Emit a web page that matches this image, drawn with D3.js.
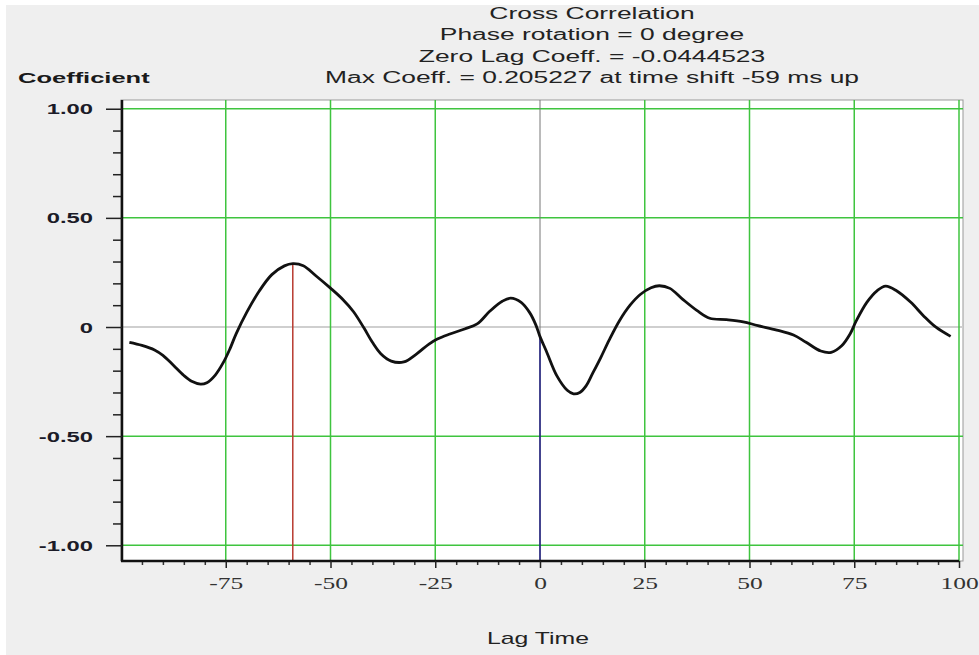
<!DOCTYPE html>
<html>
<head>
<meta charset="utf-8">
<script src="https://cdn.jsdelivr.net/npm/d3@7"></script>
<style>
  body { margin: 0; background: #fff; }
  svg { display: block; }
</style>
</head>
<body>
<svg id="chart" width="979" height="655"></svg>
<script>
"use strict";

// data
const lags = [-98, -95, -92, -90, -87.5, -85, -83, -81, -79.5, -77.5, -75.5, -74, -72.5, -70, -67, -64, -61, -59,
  -56.5, -53.5, -50, -47, -44.5, -42, -40, -38, -35.5, -32.5, -29.5, -26.5, -24.5, -21.5, -18, -15, -12, -9, -7,
  -4.5, -2.5, -1, 0, 1.5, 4, 6.5, 8, 9.5, 11, 12.5, 14.5, 16.5, 19, 21.5, 24, 26.5, 28.5, 31, 34, 37.5, 40.5, 44.5,
  48.5, 52, 56.5, 60.5, 63.5, 67, 69.5, 72, 74, 75.5, 78, 80.5, 82.5, 85, 88.5, 91.5, 94.5, 98];
const coeffs = [-0.070, -0.084, -0.105, -0.130, -0.175, -0.222, -0.250, -0.262, -0.255, -0.220, -0.160, -0.100,
  -0.030, 0.067, 0.165, 0.240, 0.280, 0.290, 0.281, 0.235, 0.178, 0.125, 0.070, -0.005, -0.070, -0.122, -0.156,
  -0.160, -0.124, -0.078, -0.055, -0.032, -0.009, 0.014, 0.072, 0.118, 0.132, 0.113, 0.067, 0.010, -0.044,
  -0.110, -0.223, -0.290, -0.306, -0.300, -0.270, -0.215, -0.140, -0.060, 0.030, 0.100, 0.150, 0.180, 0.189, 0.177,
  0.128, 0.075, 0.040, 0.034, 0.024, 0.006, -0.014, -0.037, -0.070, -0.110, -0.116, -0.086, -0.032, 0.029,
  0.113, 0.167, 0.187, 0.167, 0.113, 0.052, -0.001, -0.043];

const yTicks = [1, 0.5, 0, -0.5, -1];
const yTickLabels = ["1.00", "0.50", "0", "-0.50", "-1.00"];
const xTicks = [-75, -50, -25, 0, 25, 50, 75, 100];
const titleLines = [
  "Cross Correlation",
  "Phase rotation = 0 degree",
  "Zero Lag Coeff. = -0.0444523",
  "Max Coeff. = 0.205227 at time shift -59 ms up"
];
const maxLag = -59;
const zeroLag = 0;

let svg = d3.select("#chart"),
  pLeft = 121, pRight = 959, pTop = 100, pBottom = 561, frameRight = 963,
  x = d3.scaleLinear().domain([-100, 100]).range([pLeft, pRight]),
  y = d3.scaleLinear().domain([-1.072, 1.04]).range([pBottom, pTop]),
  pts = lags.map((l, i) => [l, coeffs[i]])
;

// page background
svg.append("rect").attr("x", 6).attr("y", 5).attr("width", 973).attr("height", 650).attr("fill", "#efefef");

// plot area
svg.append("rect")
  .attr("x", pLeft).attr("y", pTop)
  .attr("width", frameRight - pLeft).attr("height", pBottom - pTop)
  .attr("fill", "#fff").attr("stroke", "#999").attr("stroke-width", 1);

// grid
let grid = svg.append("g");
yTicks.forEach(v => {
  grid.append("line")
    .attr("x1", pLeft).attr("x2", frameRight)
    .attr("y1", y(v)).attr("y2", y(v))
    .attr("stroke", v === 0 ? "#cfcfcf" : "#3fc43f")
    .attr("stroke-width", v === 0 ? 2 : 1.5);
});
xTicks.forEach(v => {
  grid.append("line")
    .attr("x1", x(v)).attr("x2", x(v))
    .attr("y1", pTop).attr("y2", pBottom)
    .attr("stroke", v === 0 ? "#777" : "#3fc43f")
    .attr("stroke-width", v === 0 ? 1 : 1.5);
});

// stems for max coeff and zero lag
let valAt = l => coeffs[lags.indexOf(l)];
svg.append("line")
  .attr("x1", x(maxLag)).attr("x2", x(maxLag))
  .attr("y1", y(valAt(maxLag))).attr("y2", pBottom)
  .attr("stroke", "#b83a30").attr("stroke-width", 1.5);
svg.append("line")
  .attr("x1", x(zeroLag)).attr("x2", x(zeroLag))
  .attr("y1", y(valAt(zeroLag))).attr("y2", pBottom)
  .attr("stroke", "#1c1c80").attr("stroke-width", 1.5);

// curve
svg.append("path")
  .datum(pts)
  .attr("fill", "none")
  .attr("stroke", "#111")
  .attr("stroke-width", 2.8)
  .attr("stroke-linejoin", "round")
  .attr("d", d3.line().x(d => x(d[0])).y(d => y(d[1])).curve(d3.curveCatmullRom.alpha(0.5)));

// y axis
let yMinor = d3.range(-10, 11).map(d => d / 10).filter(d => yTicks.indexOf(d) < 0);
svg.append("g")
  .attr("transform", "translate(" + (pLeft + 1) + ",0)")
  .call(d3.axisLeft(y).tickValues(yMinor).tickSize(9).tickFormat(""))
  .call(g => g.select(".domain").remove())
  .selectAll("line").attr("stroke", "#222").attr("stroke-width", 1.5);

let yAxis = svg.append("g")
  .attr("transform", "translate(" + (pLeft + 1) + ",0)")
  .call(d3.axisLeft(y).tickValues(yTicks).tickSize(16).tickFormat((d, i) => yTickLabels[i]));
yAxis.select(".domain").attr("d", "M0," + pTop + "V" + pBottom).attr("stroke", "#111").attr("stroke-width", 2.5);
yAxis.selectAll(".tick line").attr("stroke", "#222").attr("stroke-width", 1.5);
yAxis.selectAll(".tick text")
  .attr("x", 0).attr("dy", "0.36em")
  .attr("transform", "translate(-29,0) scale(1.7,1)")
  .attr("font-family", "Liberation Sans, Arial, sans-serif")
  .attr("font-weight", "bold")
  .attr("font-size", 14)
  .attr("fill", "#1b1b28");

// x axis
let xMinor = d3.range(-95, 100, 5).filter(d => xTicks.indexOf(d) < 0);
svg.append("g")
  .attr("transform", "translate(0," + pBottom + ")")
  .call(d3.axisBottom(x).tickValues(xMinor).tickSize(4).tickFormat(""))
  .call(g => g.select(".domain").remove())
  .selectAll("line").attr("stroke", "#333").attr("stroke-width", 1.5);

let xAxis = svg.append("g")
  .attr("transform", "translate(0," + pBottom + ")")
  .call(d3.axisBottom(x).tickValues(xTicks).tickSize(7).tickFormat(d => d));
xAxis.select(".domain").attr("d", "M" + pLeft + ",0H" + pRight).attr("stroke", "#111").attr("stroke-width", 2.5);
xAxis.selectAll(".tick line").attr("stroke", "#222").attr("stroke-width", 1.5);
xAxis.selectAll(".tick text")
  .attr("y", 0).attr("dy", 0)
  .attr("transform", "translate(0,28) scale(1.5,1)")
  .attr("font-family", "Liberation Serif, Times New Roman, serif")
  .attr("font-size", 17)
  .attr("fill", "#333");

// titles and axis names
function stretched(txt, px, py, size, sx, opts) {
  opts = opts || {};
  return svg.append("text")
    .attr("transform", "translate(" + px + "," + py + ") scale(" + sx + ",1)")
    .attr("text-anchor", opts.anchor || "middle")
    .attr("font-family", "Liberation Sans, Arial, sans-serif")
    .attr("font-size", size)
    .attr("font-weight", opts.weight || "normal")
    .attr("fill", opts.fill || "#222")
    .text(txt);
}

let titleY = [19, 40, 62, 83];
titleLines.forEach((t, i) => stretched(t, 592, titleY[i], 16, 1.65));

stretched("Coefficient", 18, 83, 15, 1.7, {anchor: "start", weight: "bold", fill: "#1a1a1a"});
stretched("Lag Time", 538, 644, 16, 1.55, {fill: "#222"});
</script>
</body>
</html>
